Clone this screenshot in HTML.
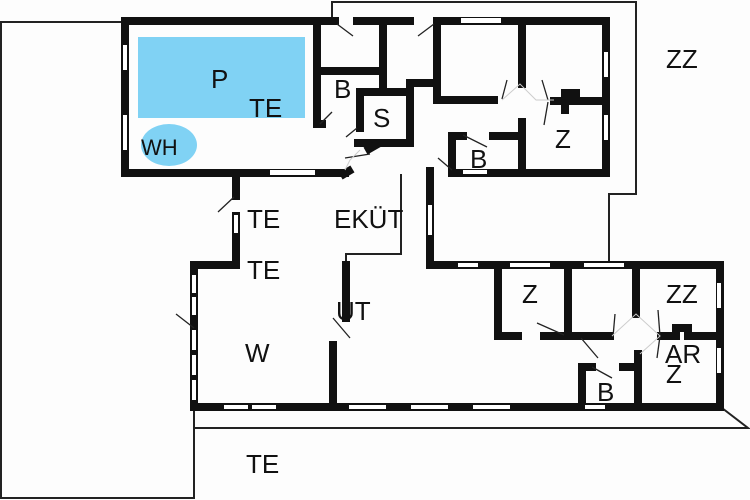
<!DOCTYPE html>
<html><head><meta charset="utf-8"><style>
html,body{margin:0;padding:0;background:#fdfdfd;}
svg{display:block}
text{font-family:"Liberation Sans",sans-serif;font-size:26px;fill:#111;}
</style></head><body>
<svg width="750" height="500" viewBox="0 0 750 500" xmlns="http://www.w3.org/2000/svg">
<rect width="750" height="500" fill="#fdfdfd"/>
<g fill="none" stroke="#222" stroke-width="2">
<polyline points="122,22 1,22 1,498 194,498 194,410"/>
<polyline points="194,428 748,428 722,408"/>
<polyline points="332,19 332,2 636,2 636,194 609,194 609,264"/>
<polyline points="401,174 401,254 346,254 346,264"/>
</g>
<rect x="138" y="37" width="167" height="81" fill="#80d2f4"/>
<ellipse cx="169" cy="145" rx="28" ry="21" fill="#80d2f4"/>
<g stroke="#111" stroke-width="8" fill="none" stroke-linecap="square">
<polyline points="335,21 125,21 125,173 345,173"/>
<line x1="357" y1="21" x2="410" y2="21"/>
<polyline points="438,21 606,21 606,173 452,173 452,136 463,136"/>
<line x1="493" y1="136" x2="522" y2="136"/>
<line x1="522" y1="122" x2="522" y2="173"/>
<line x1="317" y1="21" x2="317" y2="124"/>
<line x1="317" y1="124" x2="322" y2="124"/>
<line x1="317" y1="71" x2="382" y2="71"/>
<line x1="383" y1="21" x2="383" y2="92"/>
<polyline points="360,92 410,92 410,143 358,143"/>
<line x1="360" y1="92" x2="360" y2="128"/>
<polyline points="410,92 410,83 437,83"/>
<polyline points="437,21 437,100 494,100"/>
<line x1="522" y1="21" x2="522" y2="84"/>
<line x1="554" y1="101" x2="606" y2="101"/>
<polyline points="565,101 565,93 576,93 576,101"/>
<line x1="565" y1="101" x2="565" y2="110"/>
<line x1="369" y1="149" x2="376" y2="145"/>
<line x1="349" y1="171" x2="344" y2="174"/>
<line x1="236" y1="173" x2="236" y2="196"/>
<line x1="236" y1="216" x2="236" y2="265"/>
<line x1="430" y1="171" x2="430" y2="265"/>
<polyline points="233,265 194,265 194,407 720,407 720,265 430,265"/>
<line x1="346" y1="265" x2="346" y2="318"/>
<line x1="333" y1="345" x2="333" y2="407"/>
<polyline points="498,265 498,336 518,336"/>
<polyline points="544,336 568,336 568,265"/>
<polyline points="568,336 610,336"/>
<line x1="636" y1="265" x2="636" y2="314"/>
<polyline points="661,336 676,336 676,328 688,328 688,336 720,336"/>
<line x1="638" y1="354" x2="638" y2="407"/>
<polyline points="582,407 582,367 592,367"/>
<line x1="623" y1="367" x2="638" y2="367"/>
</g>
<g fill="#fff">
<rect x="270" y="170" width="45" height="5"/>
<rect x="463" y="170" width="24" height="4"/>
<rect x="461" y="18" width="40" height="5"/>
<rect x="123" y="45" width="4" height="25"/><rect x="123" y="115" width="4" height="35"/>
<rect x="604" y="52" width="4" height="25"/><rect x="604" y="115" width="4" height="25"/>
<rect x="428" y="205" width="4" height="30"/>
<rect x="234" y="215" width="4" height="18"/>
<rect x="458" y="263" width="20" height="4"/><rect x="510" y="263" width="40" height="4"/><rect x="584" y="263" width="40" height="4"/>
<rect x="192" y="275" width="4" height="18"/><rect x="192" y="297" width="4" height="18"/>
<rect x="192" y="330" width="4" height="20"/><rect x="192" y="355" width="4" height="20"/><rect x="192" y="380" width="4" height="20"/>
<rect x="224" y="405" width="24" height="4"/><rect x="252" y="405" width="24" height="4"/>
<rect x="349" y="405" width="37" height="4"/><rect x="411" y="405" width="37" height="4"/><rect x="473" y="405" width="37" height="4"/>
<rect x="585" y="405" width="20" height="4"/>
<rect x="717" y="283" width="4" height="25"/><rect x="717" y="348" width="4" height="25"/>
</g>
<g stroke="#222" stroke-width="1.3">
<line x1="337" y1="24" x2="353" y2="36"/><line x1="434" y1="24" x2="418" y2="36"/>
<line x1="320" y1="124" x2="332" y2="112"/><line x1="346" y1="137" x2="357" y2="128"/>
<line x1="345" y1="158" x2="370" y2="154"/><line x1="438" y1="158" x2="452" y2="170"/>
<line x1="463" y1="135" x2="487" y2="147"/>
<line x1="502" y1="99" x2="507" y2="80"/><line x1="548" y1="100" x2="542" y2="80"/><line x1="548" y1="102" x2="544" y2="125"/>
<line x1="234" y1="197" x2="218" y2="212"/><line x1="194" y1="328" x2="176" y2="314"/>
<line x1="333" y1="318" x2="350" y2="338"/>
<line x1="537" y1="323" x2="564" y2="335"/><line x1="581" y1="338" x2="598" y2="358"/>
<line x1="613" y1="337" x2="615" y2="314"/><line x1="660" y1="336" x2="658" y2="310"/><line x1="660" y1="336" x2="657" y2="358"/>
<line x1="592" y1="367" x2="612" y2="378"/>
</g>
<g stroke="#ccc" stroke-width="1" fill="none">
<polyline points="502,100 520,84 536,100 554,100"/>
<polyline points="612,336 636,314 660,336 640,354"/>
<polyline points="360,150 350,160 345,170"/>
</g>
<text x="211" y="88">P</text>
<text x="249" y="117">TE</text>
<text x="141" y="155" style="font-size:22px">WH</text>
<text x="334" y="98">B</text>
<text x="373" y="127">S</text>
<text x="470" y="168">B</text>
<text x="555" y="148">Z</text>
<text x="666" y="68">ZZ</text>
<text x="247" y="228">TE</text>
<text x="334" y="228">EKÜT</text>
<text x="247" y="279">TE</text>
<text x="336" y="320">UT</text>
<text x="245" y="362">W</text>
<text x="522" y="303">Z</text>
<text x="666" y="303">ZZ</text>
<text x="665" y="363">AR</text>
<text x="666" y="383">Z</text>
<text x="597" y="401">B</text>
<text x="246" y="473">TE</text>
</svg>
</body></html>
